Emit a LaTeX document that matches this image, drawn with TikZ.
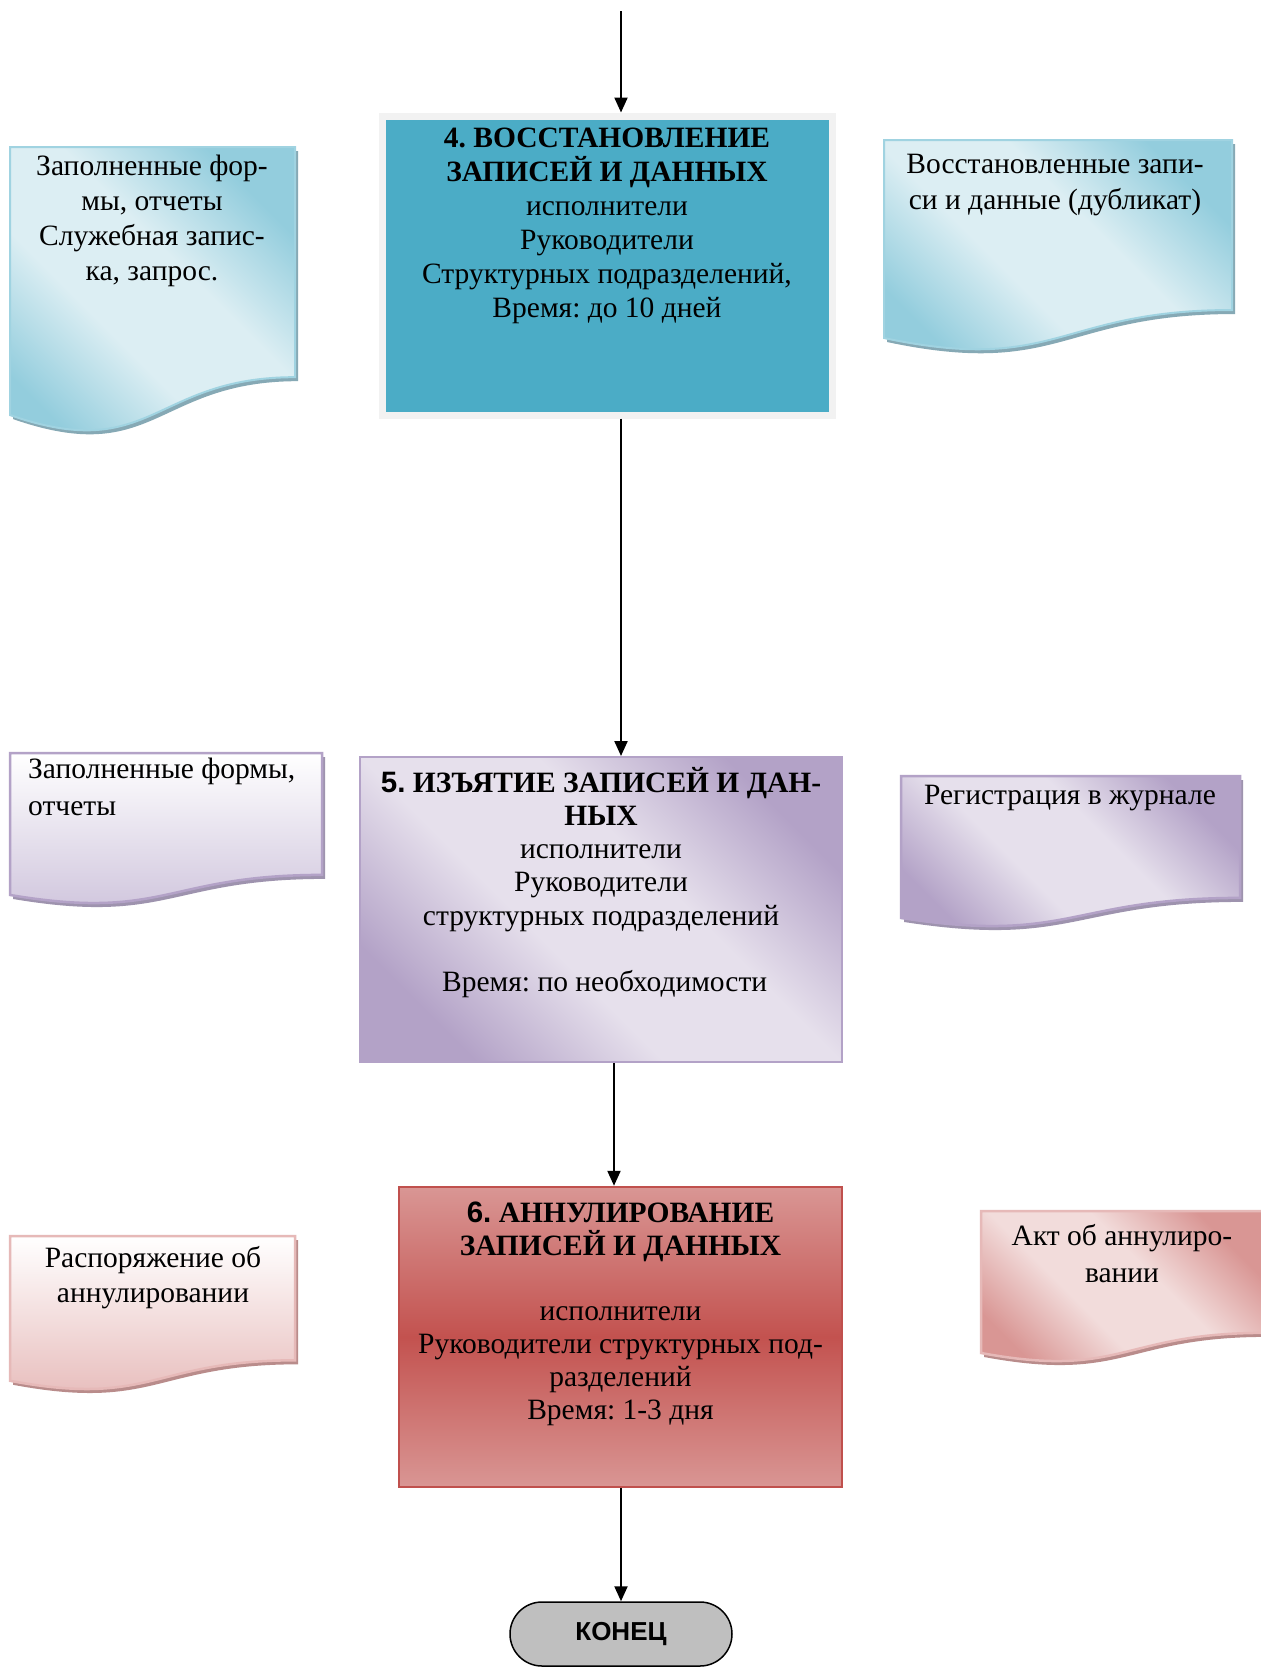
\documentclass[tikz,border=0pt]{standalone}
\usepackage{fontspec}
\setmainfont{Liberation Serif}
\setsansfont{Liberation Sans}
\usetikzlibrary{arrows.meta}
\frenchspacing
\definecolor{tealbox}{HTML}{4BACC6}
\definecolor{grayrim}{HTML}{F2F2F2}
\definecolor{bluedark}{HTML}{93CDDD}
\definecolor{bluelight}{HTML}{DCEEF3}
\definecolor{blueline}{HTML}{A0D3E1}
\definecolor{blueshadow}{HTML}{86A9B5}
\definecolor{lavdark}{HTML}{B3A2C7}
\definecolor{lavlight}{HTML}{E6E0EC}
\definecolor{lavbottom}{HTML}{CDC2DB}
\definecolor{lavshadow}{HTML}{9E93AE}
\definecolor{reddark}{HTML}{D99694}
\definecolor{redmid}{HTML}{C3524F}
\definecolor{redline}{HTML}{C0504D}
\definecolor{redlight}{HTML}{F2DCDB}
\definecolor{redbottom}{HTML}{E6B9B8}
\definecolor{redshadow}{HTML}{B98C8B}
\definecolor{termfill}{HTML}{BFBFBF}
\pgfdeclareverticalshading{bluediag}{100bp}{color(0bp)=(bluedark); color(25bp)=(bluedark); color(42bp)=(bluelight); color(58bp)=(bluelight); color(75bp)=(bluedark); color(100bp)=(bluedark)}
\pgfdeclareverticalshading{lavdiag}{100bp}{color(0bp)=(lavdark); color(25bp)=(lavdark); color(42bp)=(lavlight); color(58bp)=(lavlight); color(75bp)=(lavdark); color(100bp)=(lavdark)}
\pgfdeclareverticalshading{reddiag}{100bp}{color(0bp)=(reddark); color(25bp)=(reddark); color(42bp)=(redlight); color(58bp)=(redlight); color(75bp)=(reddark); color(100bp)=(reddark)}
\newcommand\st{\rule{0pt}{27pt}}
% x1 y1 x2 h shadowcolour style
\newcommand\drawdoc[6]{%
  \fill[#5, shift={(3,4)}] (#1,#2) -- (#3,#2) -- (#3,{#2+0.802*#4})
    .. controls ({(#1+#3)/2},{#2+0.802*#4}) and ({(#1+#3)/2},{#2+1.107*#4}) ..
    (#1,{#2+0.934*#4}) -- cycle;
  \path[#6] (#1,#2) -- (#3,#2) -- (#3,{#2+0.802*#4})
    .. controls ({(#1+#3)/2},{#2+0.802*#4}) and ({(#1+#3)/2},{#2+1.107*#4}) ..
    (#1,{#2+0.934*#4}) -- cycle;
}
\begin{document}
\begin{tikzpicture}[x=1pt,y=-1pt,
  txt/.style={inner sep=0pt, align=center},
  arr/.style={-{Triangle[length=15pt,width=13pt]}, line width=2.2pt, black},
  bluedoc/.style={draw=blueline, line width=2pt, shade, shading=bluediag, shading angle=-45},
  lavdoc/.style={draw=lavdark, line width=2.5pt, shade, shading=lavdiag, shading angle=-45},
  lavdocv/.style={draw=lavdark, line width=2.5pt, top color=white, bottom color=lavbottom},
  reddoc/.style={draw=redbottom, line width=2.5pt, shade, shading=reddiag, shading angle=-45},
  reddocv/.style={draw=redbottom, line width=2.5pt, top color=white, bottom color=redbottom},
  term/.style={draw=black, line width=1.5pt, fill=termfill, rounded corners=32pt, minimum width=222pt, minimum height=64pt, inner sep=0pt, font=\sffamily\bfseries\fontsize{26}{30}\selectfont}
]
\useasboundingbox (0,0) rectangle (1261,1668);
\fill[white] (0,0) rectangle (1261,1668);

% documents
\drawdoc{10}{147}{295}{287}{blueshadow}{bluedoc}
\drawdoc{884}{140}{1232}{212}{blueshadow}{bluedoc}
\drawdoc{10}{753}{322}{152}{lavshadow}{lavdocv}
\drawdoc{901}{776}{1240}{152}{lavshadow}{lavdoc}
\drawdoc{10}{1236}{295}{155}{redshadow}{reddocv}
\drawdoc{981}{1211}{1263}{152}{redshadow}{reddoc}

% main boxes
\node[draw=grayrim, line width=7pt, fill=tealbox, inner sep=0pt,
      minimum width=450pt, minimum height=299pt] (b4) at (607,265.5) {};
\node[draw=lavdark, line width=2pt, inner sep=0pt, minimum width=482pt, minimum height=305pt,
      shade, shading=lavdiag, shading angle=-45] (b5) at (601,909.5) {};
\node[draw=redline, line width=2.5pt, inner sep=0pt, minimum width=443pt, minimum height=300pt,
      top color=reddark, bottom color=reddark, middle color=redmid] (b6) at (620.5,1337) {};
\node[term] (end) at (621,1634) {КОНЕЦ};

% texts
\node[txt, anchor=north, font=\fontsize{29.5}{34}\selectfont] (t4) at (607,120)
  {\st\textbf{4. ВОССТАНОВЛЕНИЕ}\\\textbf{ЗАПИСЕЙ И ДАННЫХ}\\исполнители\\Руководители\\Структурных подразделений,\\Время: до 10 дней};
\node[txt, anchor=north, font=\fontsize{29.5}{33.2}\selectfont] (t5) at (601,765)
  {\st\textbf{\sffamily 5.} \textbf{ИЗЪЯТИЕ ЗАПИСЕЙ И ДАН-}\\\textbf{НЫХ}\\исполнители\\Руководители\\структурных подразделений\\[33.2pt]\ Время: по необходимости};
\node[txt, anchor=north, font=\fontsize{29.5}{32.8}\selectfont] (t6) at (620.5,1195)
  {\st\textbf{\sffamily 6.} \textbf{АННУЛИРОВАНИЕ}\\\textbf{ЗАПИСЕЙ И ДАННЫХ}\\[32.8pt]исполнители\\Руководители структурных под-\\разделений\\Время: 1-3 дня};

\node[txt, anchor=north, font=\fontsize{29.5}{35}\selectfont] (d1) at (152,148)
  {\st Заполненные фор-\\мы, отчеты\\Служебная запис-\\ка, запрос.};
\node[txt, anchor=north, font=\fontsize{29.5}{36}\selectfont] (d2) at (1055,146)
  {\st Восстановленные запи-\\си и данные (дубликат)};
\node[txt, align=left, anchor=north west, font=\fontsize{29.5}{37}\selectfont] (d3) at (28,751)
  {\st Заполненные формы,\\отчеты};
\node[txt, anchor=north, font=\fontsize{29.5}{35}\selectfont] (d4) at (1070,777)
  {\st Регистрация в журнале};
\node[txt, anchor=north, font=\fontsize{29.5}{35}\selectfont] (d5) at (153,1240)
  {\st Распоряжение об\\аннулировании};
\node[txt, anchor=north, font=\fontsize{29.5}{37}\selectfont] (d6) at (1122,1218)
  {\st Акт об аннулиро-\\вании};

% connectors
\coordinate (top) at (621,11);
\coordinate (xb) at (614,0);
\draw[arr] (top) -- (top |- b4.north);
\draw[arr] (b4.south -| top) -- (b5.north -| top);
\draw[arr] (b5.south -| xb) -- (b6.north -| xb);
\draw[arr] (b6.south -| top) -- (end.north -| top);
\end{tikzpicture}
\end{document}
